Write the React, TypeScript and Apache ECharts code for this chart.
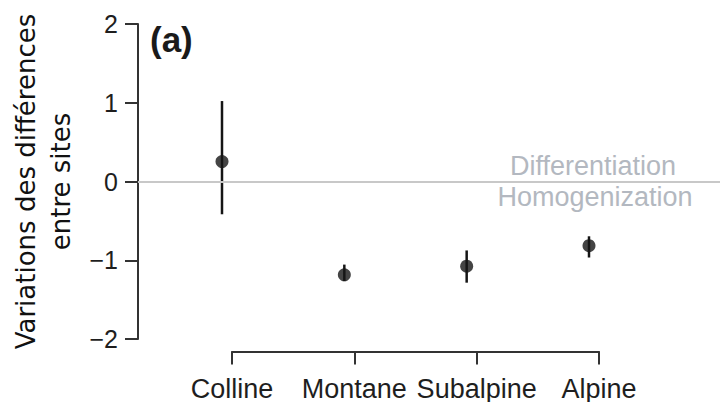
import React, { useEffect, useRef } from "react";
import * as echarts from "echarts";

const categories = ["Colline", "Montane", "Subalpine", "Alpine"];
const means = [0.25, -1.19, -1.08, -0.82];
const lowers = [-0.42, -1.27, -1.29, -0.97];
const uppers = [1.02, -1.06, -0.88, -0.7];
const yMin = -2;
const yMax = 2;
const yStep = 1;

const AXIS_COLOR = "#333333";
const POINT_COLOR = "#151515";
const SHIFT = -10;

export default function App() {
  const ref = useRef<HTMLDivElement>(null);
  useEffect(() => {
    document.body.style.margin = "0";
    const chart = echarts.init(ref.current!, undefined, { renderer: "svg" });
    const errData = categories.map((_, i) => [i, lowers[i], uppers[i]]);
    chart.setOption({
      animation: false,
      backgroundColor: "#ffffff",
      grid: [
        { left: 138, right: 4, top: 24, bottom: 63 },
        { left: 232, right: 125, top: 24, bottom: 63 },
      ],
      xAxis: [
        { type: "value", gridIndex: 0, show: false, min: 0, max: 1 },
        {
          type: "category",
          gridIndex: 1,
          data: categories,
          boundaryGap: false,
          offset: 13,
          axisLine: { show: true, onZero: false, lineStyle: { color: AXIS_COLOR, width: 2 } },
          axisTick: { show: true, interval: 0, length: 13, lineStyle: { color: AXIS_COLOR, width: 2 } },
          axisLabel: {
            interval: 0,
            margin: 26,
            fontSize: 27,
            lineHeight: 22,
            fontFamily: "Liberation Sans",
            color: "#1e1e1e",
          },
          splitLine: { show: false },
        },
      ],
      yAxis: [
        {
          type: "value",
          gridIndex: 0,
          min: yMin,
          max: yMax,
          interval: yStep,
          name: "Variations des différences\nentre sites",
          nameLocation: "middle",
          nameRotate: 90,
          nameGap: 58,
          nameTextStyle: {
            fontFamily: "DejaVu Sans",
            fontSize: 26,
            lineHeight: 35,
            color: "#111111",
          },
          axisLine: { show: true, lineStyle: { color: AXIS_COLOR, width: 2 } },
          axisTick: { show: true, length: 13, lineStyle: { color: AXIS_COLOR, width: 2 } },
          axisLabel: {
            margin: 20,
            fontSize: 25,
            fontFamily: "Liberation Sans",
            color: "#1e1e1e",
            formatter: (v: number) => String(v).replace("-", "\u2212"),
          },
          splitLine: { show: false },
        },
        {
          type: "value",
          gridIndex: 1,
          min: yMin,
          max: yMax,
          interval: yStep,
          show: false,
          splitLine: { show: false },
        },
      ],
      graphic: [
        {
          type: "text",
          left: 150,
          top: 22,
          style: {
            text: "(a)",
            fontSize: 35,
            fontWeight: "bold",
            fontFamily: "Liberation Sans",
            fill: "#1a1a1a",
          },
        },
        {
          type: "text",
          x: 593,
          y: 166,
          style: {
            text: "Differentiation",
            fontSize: 27,
            fontFamily: "Liberation Sans",
            fill: "#b3b8c0",
            align: "center",
            verticalAlign: "middle",
          },
        },
        {
          type: "text",
          x: 595,
          y: 197,
          style: {
            text: "Homogenization",
            fontSize: 27,
            fontFamily: "Liberation Sans",
            fill: "#b3b8c0",
            align: "center",
            verticalAlign: "middle",
          },
        },
      ],
      series: [
        {
          type: "line",
          xAxisIndex: 0,
          yAxisIndex: 0,
          data: [],
          markLine: {
            silent: true,
            symbol: "none",
            label: { show: false },
            lineStyle: { color: "#c8c8c8", width: 2, type: "solid" },
            data: [{ yAxis: 0 }],
          },
        },
        {
          type: "custom",
          xAxisIndex: 1,
          yAxisIndex: 1,
          data: errData,
          clip: false,
          renderItem: (params: any, api: any) => {
            const x = api.value(0);
            const lo = api.coord([x, api.value(1)]);
            const hi = api.coord([x, api.value(2)]);
            return {
              type: "line",
              shape: { x1: lo[0] + SHIFT, y1: lo[1], x2: hi[0] + SHIFT, y2: hi[1] },
              style: { stroke: POINT_COLOR, lineWidth: 2.5 },
            };
          },
          z: 3,
        },
        {
          type: "scatter",
          xAxisIndex: 1,
          yAxisIndex: 1,
          data: means.map((m, i) => [i, m]),
          symbol: "circle",
          symbolSize: 13,
          symbolOffset: [SHIFT, 0],
          itemStyle: { color: POINT_COLOR },
          clip: false,
          z: 4,
        },
      ],
    });
    return () => chart.dispose();
  }, []);
  return <div ref={ref} style={{ width: 724, height: 402 }} />;
}
